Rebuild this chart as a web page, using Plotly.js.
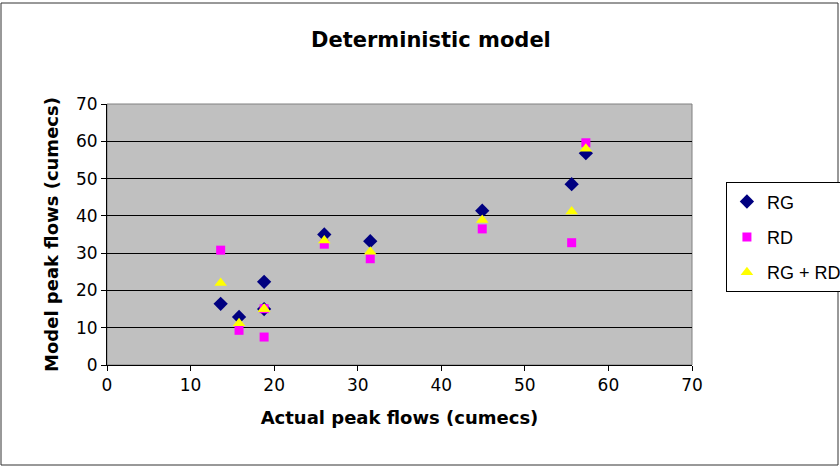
<!DOCTYPE html>
<html><head><meta charset="utf-8">
<script src="https://cdn.plot.ly/plotly-3.0.1.min.js"></script>
<style>html,body{margin:0;padding:0;background:#fff}#chart{width:840px;height:467px}</style>
</head><body><div id="chart"></div>
<script>
const actual = [13.6, 15.8, 18.8, 18.8, 26.0, 31.5, 44.9, 55.6, 57.3];
const rg     = [16.4, 12.9, 22.3, 15.0, 35.0, 33.2, 41.4, 48.5, 56.8];
const rd     = [30.8,  9.3,  7.5, 15.1, 32.4, 28.5, 36.5, 32.8, 59.6];
const rgrd   = [22.0, 11.2, 15.0, 15.0, 33.4, 30.4, 38.9, 41.2, 58.0];
const seriesNames = ["RG", "RD", "RG + RD"];

const font = "DejaVu Sans, Arial, sans-serif";
const legendFont = "Liberation Sans, Arial, sans-serif";
const traces = [
  {x: actual, y: rg, name: seriesNames[0], legendgroup: "a", mode: "markers", type: "scatter",
   marker: {symbol: "diamond", color: "#000080", size: 11}},
  {x: actual, y: rd, name: seriesNames[1], legendgroup: "b", mode: "markers", type: "scatter",
   marker: {symbol: "square", color: "#FF00FF", size: 9}},
  {x: actual, y: rgrd, name: seriesNames[2], legendgroup: "c", mode: "markers", type: "scatter",
   marker: {symbol: "triangle-up", color: "#FFFF00", size: 11}}
];
const layout = {
  width: 840, height: 467,
  margin: {l: 107, r: 148, t: 104, b: 102, autoexpand: false},
  paper_bgcolor: "#ffffff", plot_bgcolor: "#C0C0C0",
  font: {family: font, size: 17, color: "#000"},
  title: {text: "<b>Deterministic model</b>", font: {family: font, size: 21, color: "#000"},
          x: 0.513, xref: "container", y: 0.915, yref: "container", yanchor: "middle"},
  showlegend: true,
  legend: {x: 1.058, xanchor: "left", y: 0.70, yanchor: "top", bgcolor: "#fff",
           bordercolor: "#000", borderwidth: 1, font: {family: legendFont, size: 18, color: "#000"},
           itemwidth: 30, traceorder: "grouped", tracegroupgap: 9},
  xaxis: {range: [0, 70], dtick: 10, showgrid: false, zeroline: false,
          showline: true, linecolor: "#000", linewidth: 1, mirror: false,
          ticks: "outside", ticklen: 5, tickcolor: "#000",
          title: {text: "<b>Actual peak flows (cumecs)</b>", font: {family: font, size: 18}, standoff: 16}},
  yaxis: {range: [0, 70], dtick: 10, showgrid: true, gridcolor: "#000", gridwidth: 1, zeroline: false,
          showline: true, linecolor: "#000", linewidth: 1,
          ticks: "outside", ticklen: 5, tickcolor: "#000",
          title: {text: "<b>Model peak flows (cumecs)</b>", font: {family: font, size: 18}, standoff: 12}},
  shapes: [
    {type: "rect", xref: "paper", yref: "paper", x0: 0, x1: 1, y0: 0, y1: 1,
     line: {color: "#808080", width: 1}, layer: "below"},
    {type: "rect", xref: "paper", yref: "paper", x0: -106/585, x1: 731/585, y0: -100/261, y1: 362/261,
     line: {color: "#333", width: 1}}
  ]
};
Plotly.newPlot("chart", traces, layout, {displayModeBar: false, staticPlot: true});
</script></body></html>
